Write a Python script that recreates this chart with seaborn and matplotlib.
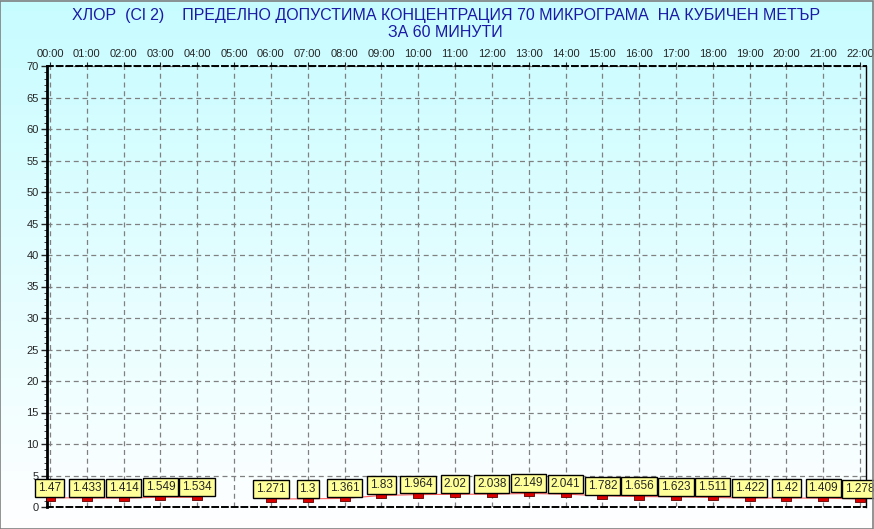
import numpy as np
import pandas as pd
import seaborn as sns
import matplotlib.pyplot as plt
from matplotlib.patches import Rectangle
from matplotlib.ticker import MultipleLocator

# данни (часове и стойности)
hours = ["00:00", "01:00", "02:00", "03:00", "04:00", "05:00", "06:00", "07:00",
         "08:00", "09:00", "10:00", "11:00", "12:00", "13:00", "14:00", "15:00",
         "16:00", "17:00", "18:00", "19:00", "20:00", "21:00", "22:00"]
values = [1.47, 1.433, 1.414, 1.549, 1.534, np.nan, 1.271, 1.3,
          1.361, 1.83, 1.964, 2.02, 2.038, 2.149, 2.041, 1.782,
          1.656, 1.623, 1.511, 1.422, 1.42, 1.409, 1.278]
labels = ["1.47", "1.433", "1.414", "1.549", "1.534", "", "1.271", "1.3",
          "1.361", "1.83", "1.964", "2.02", "2.038", "2.149", "2.041", "1.782",
          "1.656", "1.623", "1.511", "1.422", "1.42", "1.409", "1.278"]
y_ticks = list(range(0, 75, 5))

df = pd.DataFrame({"hour": range(len(hours)), "value": values, "label": labels})
df["seg"] = (df["value"].isna()).cumsum()
df = df.dropna(subset=["value"])

sns.set_style("white")
plt.rcParams["font.family"] = ["Liberation Sans Narrow", "Liberation Sans", "DejaVu Sans"]

fig = plt.figure(figsize=(8.74, 5.29), dpi=100)

# фон с преливане
bg = fig.add_axes([0, 0, 1, 1], zorder=-10)
grad = np.linspace(0, 1, 256).reshape(-1, 1)
top = np.array([0.78, 0.99, 1.0])
bot = np.array([1.0, 1.0, 1.0])
img = top[None, None, :] * (1 - grad[:, :, None]) + bot[None, None, :] * grad[:, :, None]
bg.imshow(img, aspect="auto", extent=[0, 1, 0, 1])
bg.set_axis_off()
fig.patches.append(Rectangle((0, 0), 0.9985, 0.998, transform=fig.transFigure,
                             fill=False, edgecolor="#808080", lw=1.2))

ax = fig.add_axes([47 / 874, 22 / 529, 819 / 874, 441 / 529])
ax.patch.set_alpha(0)

sns.lineplot(data=df, x="hour", y="value", units="seg", estimator=None,
             color="#ff6060", lw=0.8, ax=ax, legend=False)
rect = [(-1, -0.5), (1, -0.5), (1, 0.5), (-1, 0.5), (-1, -0.5)]
sns.scatterplot(data=df, x="hour", y="value", marker=rect, s=60, color="#dd0000",
                edgecolor="#600000", linewidth=0.6, ax=ax, legend=False, zorder=5)

for _, r in df.iterrows():
    ax.annotate(r["label"], (r["hour"], r["value"]), xytext=(0, 3),
                textcoords="offset points", ha="center", va="bottom", fontsize=8.5,
                bbox=dict(boxstyle="square,pad=0.25", fc="#ffff99", ec="black", lw=1),
                zorder=6)

ax.set_xlim(-0.08, 22.16)
ax.set_ylim(0, 70)
ax.set_xticks(range(len(hours)))
ax.set_xticklabels(hours, fontsize=8)
ax.xaxis.tick_top()
ax.set_yticks(y_ticks)
ax.set_yticklabels([str(t) for t in y_ticks], fontsize=8)
ax.yaxis.set_minor_locator(MultipleLocator(1))
ax.tick_params(axis="y", which="major", length=4, width=1, pad=2, left=True)
ax.tick_params(axis="y", which="minor", length=2, left=True)
ax.tick_params(axis="x", which="major", length=3, pad=2, top=True)
ax.set_xlabel("")
ax.set_ylabel("")
ax.grid(True, color="#808080", ls=(0, (4, 3)), lw=0.9)

ax.spines["left"].set_linewidth(2)
ax.spines["left"].set_color("black")
for s in ["top", "bottom"]:
    ax.spines[s].set_linestyle((0, (3, 2)))
    ax.spines[s].set_linewidth(1.4)
    ax.spines[s].set_color("black")
ax.spines["right"].set_linewidth(1)
ax.spines["right"].set_color("black")

fig.text(0.51, 0.970, "ХЛОР  (Cl 2)    ПРЕДЕЛНО ДОПУСТИМА КОНЦЕНТРАЦИЯ 70 МИКРОГРАМА  НА КУБИЧЕН МЕТЪР",
         ha="center", va="center", fontsize=11.5, color="#1a1aa6")
fig.text(0.51, 0.938, "ЗА 60 МИНУТИ", ha="center", va="center", fontsize=11.5, color="#1a1aa6")

plt.savefig("out.png", dpi=100)
